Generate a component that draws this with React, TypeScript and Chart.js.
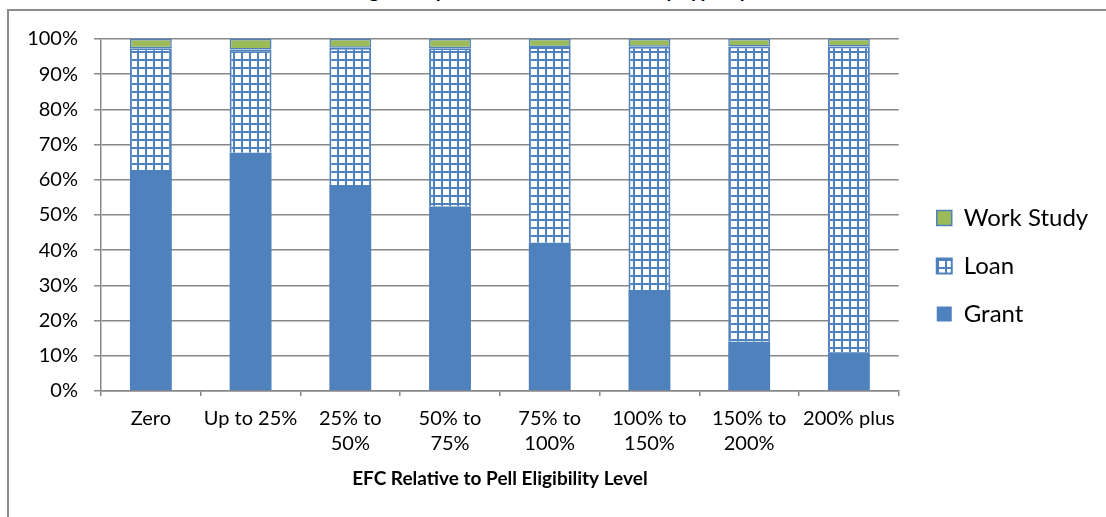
import React, { useEffect, useRef } from "react";
import { Chart, registerables } from "chart.js";

Chart.register(...registerables);

const chartTitle = "Percentage Composition of Financial Aid by Type by EFC Level";
const xAxisTitle = "EFC Relative to Pell Eligibility Level";

const categories: (string | string[])[] = [
  "Zero",
  "Up to 25%",
  ["25% to", "50%"],
  ["50% to", "75%"],
  ["75% to", "100%"],
  ["100% to", "150%"],
  ["150% to", "200%"],
  "200% plus",
];

const seriesNames = ["Grant", "Loan", "Work Study"];
const grantValues = [62.8, 67.7, 58.5, 52.4, 42.1, 28.7, 14.0, 11.0];
const loanValues = [34.6, 29.3, 39.0, 45.0, 55.6, 69.1, 83.9, 86.9];
const workStudyValues = [2.6, 3.0, 2.5, 2.6, 2.3, 2.2, 2.1, 2.1];

const yTickValues = [0, 10, 20, 30, 40, 50, 60, 70, 80, 90, 100];
const yTickLabels = ["0%", "10%", "20%", "30%", "40%", "50%", "60%", "70%", "80%", "90%", "100%"];

const BLUE = "#4F81BD";
const GREEN = "#9BBB59";
const GRID = "#888888";
const FONT = "Lato";
const PLOT_RIGHT = 889;

function makeGridPattern(ctx: CanvasRenderingContext2D): CanvasPattern | string {
  const c = document.createElement("canvas");
  c.width = 8;
  c.height = 8;
  const g = c.getContext("2d");
  if (!g) return BLUE;
  g.fillStyle = BLUE;
  g.fillRect(0, 0, 8, 8);
  g.fillStyle = "#ffffff";
  g.fillRect(2, 2, 6, 6);
  return ctx.createPattern(c, "repeat") || BLUE;
}

export default function App() {
  const canvasRef = useRef<HTMLCanvasElement | null>(null);

  useEffect(() => {
    const canvas = canvasRef.current;
    if (!canvas) return;
    const ctx = canvas.getContext("2d");
    if (!ctx) return;
    const pattern = makeGridPattern(ctx);

    const chart = new Chart(ctx, {
      type: "bar",
      data: {
        labels: categories,
        datasets: [
          {
            label: seriesNames[0],
            data: grantValues,
            backgroundColor: BLUE,
            borderWidth: 0,
            yAxisID: "y",
          },
          {
            label: seriesNames[1],
            data: loanValues,
            backgroundColor: pattern as any,
            borderColor: BLUE,
            borderWidth: 2,
            yAxisID: "y",
          },
          {
            label: seriesNames[2],
            data: workStudyValues,
            backgroundColor: GREEN,
            borderColor: BLUE,
            borderWidth: 1.5,
            borderSkipped: false,
            yAxisID: "y",
          },
        ],
      },
      options: {
        responsive: false,
        animation: false,
        devicePixelRatio: 1,
        datasets: {
          bar: { barPercentage: 0.42, categoryPercentage: 1 },
        },
        layout: { padding: { top: 28, left: 0, right: 71, bottom: 0 } },
        plugins: {
          title: { display: false },
          tooltip: { enabled: false },
          legend: {
            position: "right",
            reverse: true,
            labels: {
              boxWidth: 15,
              boxHeight: 15,
              padding: 24,
              color: "#000",
              font: { family: FONT, size: 24 },
            },
          },
        },
        scales: {
          x: {
            stacked: true,
            grid: {
              display: true,
              drawOnChartArea: false,
              drawTicks: true,
              tickLength: 5,
              color: GRID,
              lineWidth: 1.5,
            },
            border: { display: true, color: GRID, width: 1.5 },
            ticks: {
              color: "#000",
              font: { family: FONT, size: 20, lineHeight: 1.25 },
              padding: 10,
              autoSkip: false,
              maxRotation: 0,
              minRotation: 0,
            },
            title: {
              display: true,
              text: xAxisTitle,
              color: "#000",
              font: { family: FONT, size: 19, weight: "bold", lineHeight: 1.2 },
              padding: { top: 0, bottom: 3 },
            },
            afterFit: (s: any) => {
              s.height = 102;
            },
          },
          y: {
            stacked: true,
            min: 0,
            max: 100,
            afterBuildTicks: (s: any) => {
              s.ticks = yTickValues.map((v) => ({ value: v }));
            },
            grid: {
              color: GRID,
              lineWidth: 1.5,
              tickLength: 7,
              drawTicks: true,
            },
            border: { display: true, color: GRID, width: 1.5 },
            ticks: {
              color: "#000",
              font: { family: FONT, size: 20 },
              padding: 16,
              callback: (v: any) => {
                const i = yTickValues.indexOf(Number(v));
                return i >= 0 ? yTickLabels[i] : "";
              },
            },
            afterFit: (s: any) => {
              s.width = 92;
            },
          },
          pad: {
            type: "linear",
            position: "right",
            display: true,
            grid: { display: false },
            border: { display: false },
            ticks: { display: false },
            afterFit: (s: any) => {
              s.width = 14;
            },
          },
        },
      } as any,
    });

    const diff = chart.chartArea.right - PLOT_RIGHT;
    if (Math.abs(diff) > 0.01) {
      (chart.options as any).layout.padding.right += diff;
      chart.update();
    }

    return () => chart.destroy();
  }, []);

  return (
    <div
      style={{
        position: "fixed",
        left: 0,
        top: 0,
        width: 1106,
        height: 517,
        overflow: "hidden",
        background: "#fff",
      }}
    >
      <div
        style={{
          position: "absolute",
          left: 290,
          top: -23,
          whiteSpace: "nowrap",
          fontFamily: FONT,
          fontWeight: "bold",
          fontSize: 20,
          lineHeight: "24px",
          color: "#000",
        }}
      >
        {chartTitle}
      </div>
      <div
        style={{
          position: "absolute",
          left: 7,
          top: 9,
          width: 1300,
          height: 600,
          borderLeft: "2px solid #8c8c8c",
          borderTop: "2px solid #8c8c8c",
        }}
      />
      <canvas
        ref={canvasRef}
        width={1160}
        height={482}
        style={{ position: "absolute", left: 9, top: 11, width: 1160, height: 482 }}
      />
    </div>
  );
}
